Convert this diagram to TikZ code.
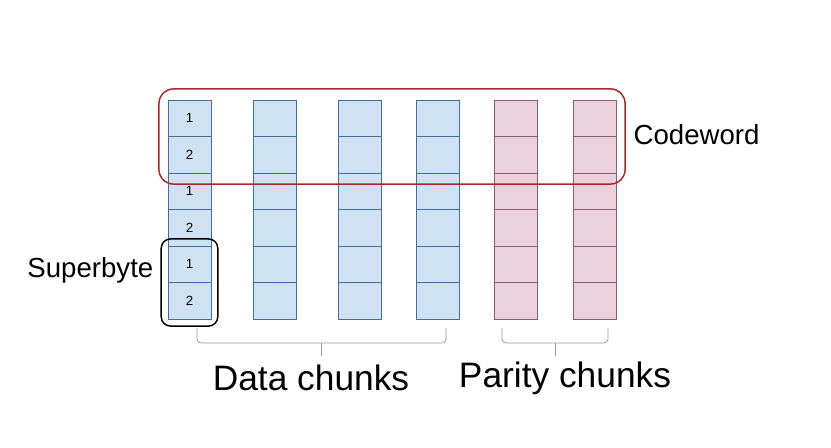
\documentclass[tikz,border=0pt]{standalone}
\usepackage{fontspec}
\setmainfont{Liberation Sans}
\usetikzlibrary{positioning,fit,calc}
\definecolor{DataFill}{HTML}{CFE2F3}
\definecolor{DataLine}{HTML}{41709F}
\definecolor{ParFill}{HTML}{EAD1DC}
\definecolor{ParLine}{HTML}{8E5C7A}
\definecolor{CodeRed}{HTML}{B0252C}
\definecolor{BraceGray}{HTML}{9A9A9A}

\begin{document}
\begin{tikzpicture}[x=0.75pt, y=-0.75pt,
    cell/.style={draw, minimum width=32.25pt, minimum height=27.4pt, inner sep=0pt, line width=0.6pt},
    datacell/.style={cell, fill=DataFill, draw=DataLine},
    paritycell/.style={cell, fill=ParFill, draw=ParLine},
    grouping/.style={draw, rounded corners=11pt, line width=1.1pt, fill=none},
    chunkbrace/.style={draw=BraceGray, line width=0.6pt, rounded corners=3pt}]
    \useasboundingbox (0,0) rectangle (831,447);

    % First data chunk, with superbyte numbers
    \foreach \r in {1,...,6} {
        \pgfmathtruncatemacro{\k}{2-mod(\r,2)}
        \node[datacell, font=\fontsize{10}{11}\selectfont] (d1-\r) at (189.5,{118.25+(\r-1)*36.5}) {\k};
    }

    % Other data chunks
    \foreach \x [count=\c from 2] in {274.5,359.5,437.5}
        \foreach \r in {1,...,6}
            \node[datacell] (d\c-\r) at (\x,{118.25+(\r-1)*36.5}) {};

    % Parity chunks
    \foreach \x [count=\c] in {515.5,594.5}
        \foreach \r in {1,...,6}
            \node[paritycell] (p\c-\r) at (\x,{118.25+(\r-1)*36.5}) {};

    % Codeword
    \node[grouping, draw=CodeRed, fit=(d1-1)(p2-2), inner xsep=6.5pt, inner ysep=8pt] (codeword) {};
    \node[font=\fontsize{20.7}{24}\selectfont, anchor=west] (cwlabel) at (629,135) {Codeword};

    % Superbyte
    \node[grouping, draw=black, rounded corners=7pt, fit=(d1-5)(d1-6), inner xsep=4.8pt, inner ysep=5pt] (superbyte) {};
    \node[font=\fontsize{20.7}{24}\selectfont, anchor=east] (sblabel) at (158,270) {Superbyte};

    % Braces
    \coordinate (dl) at (197,328);
    \coordinate (dr) at (446,328);
    \coordinate (pl) at (502,328);
    \coordinate (pr) at (608,328);
    \coordinate (dm) at ($(dl)!0.5!(dr)+(0,15)$);
    \coordinate (pm) at ($(pl)!0.5!(pr)+(0,15)$);
    \draw[chunkbrace] (dl) |- (dm) -| (dr);
    \draw[chunkbrace] (pl) |- (pm) -| (pr);
    \draw[chunkbrace] (dm) -- ++(0,13);
    \draw[chunkbrace] (pm) -- ++(0,13);
    \node[font=\fontsize{26.5}{30}\selectfont] (datalabel) at (311,378) {Data chunks};
    \node[font=\fontsize{26.5}{30}\selectfont] (paritylabel) at (565,378) {Parity chunks};

\end{tikzpicture}
\end{document}
